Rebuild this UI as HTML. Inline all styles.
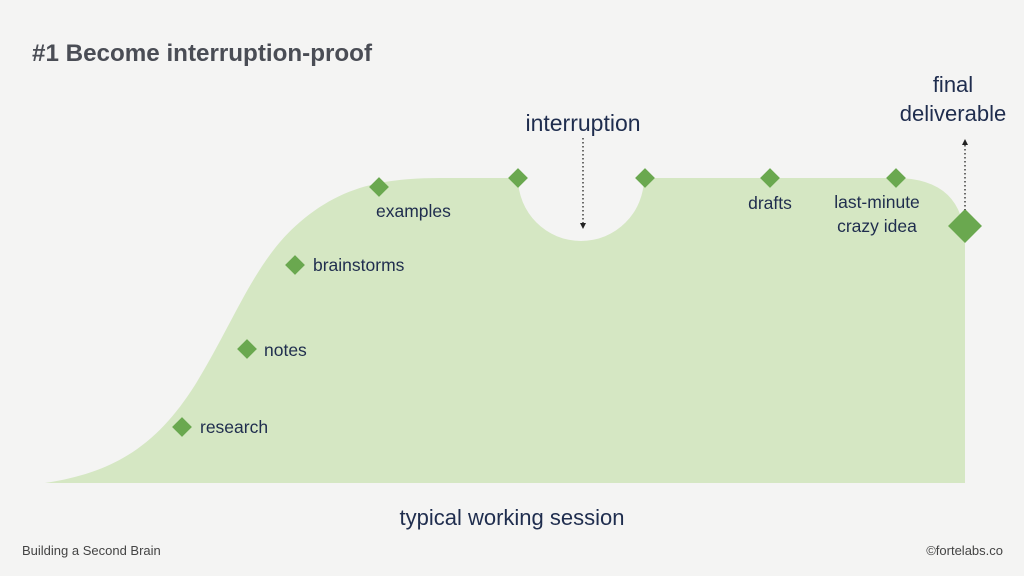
<!DOCTYPE html>
<html><head><meta charset="utf-8"><style>
body{margin:0;background:#f4f4f3;}
svg{display:block}
text{font-family:"Liberation Sans",sans-serif;}
</style></head><body>
<svg width="1024" height="576" viewBox="0 0 1024 576">
<rect width="1024" height="576" fill="#f4f4f3"/>
<text x="32" y="61" font-size="24.2" font-weight="bold" fill="#4a4d55">#1 Become interruption-proof</text>
<path d="M45,483 C120,472 160,440 195,385 C235,320 255,260 300,222 C340,188 380,178 440,178 L518,178 A63,63 0 0 0 644,178 L895,178 Q965,178 965,245 L965,483 Z" fill="#d5e7c3"/>
<g fill="#6aa84f">
<rect x="-7" y="-7" width="14" height="14" transform="translate(182,427) rotate(45)"/>
<rect x="-7" y="-7" width="14" height="14" transform="translate(247,349) rotate(45)"/>
<rect x="-7" y="-7" width="14" height="14" transform="translate(295,265) rotate(45)"/>
<rect x="-7" y="-7" width="14" height="14" transform="translate(379,187) rotate(45)"/>
<rect x="-7" y="-7" width="14" height="14" transform="translate(518,178) rotate(45)"/>
<rect x="-7" y="-7" width="14" height="14" transform="translate(645,178) rotate(45)"/>
<rect x="-7" y="-7" width="14" height="14" transform="translate(770,178) rotate(45)"/>
<rect x="-7" y="-7" width="14" height="14" transform="translate(896,178) rotate(45)"/>
<rect x="-12" y="-12" width="24" height="24" transform="translate(965,226) rotate(45)"/>
</g>
<g fill="#1f2d4e" font-size="17.5">
<text x="200" y="433">research</text>
<text x="264" y="356">notes</text>
<text x="313" y="271">brainstorms</text>
<text x="376" y="217">examples</text>
<text x="770" y="209" text-anchor="middle">drafts</text>
<text x="877" y="208" text-anchor="middle">last-minute</text>
<text x="877" y="232" text-anchor="middle">crazy idea</text>
</g>
<g fill="#1f2d4e">
<text x="583" y="131" text-anchor="middle" font-size="23">interruption</text>
<text x="953" y="92" text-anchor="middle" font-size="22">final</text>
<text x="953" y="121" text-anchor="middle" font-size="22">deliverable</text>
<text x="512" y="525" text-anchor="middle" font-size="22">typical working session</text>
</g>
<g stroke="#222" stroke-width="1.3" stroke-dasharray="1.5,2.5">
<line x1="583" y1="138" x2="583" y2="223"/>
<line x1="965" y1="145" x2="965" y2="210"/>
</g>
<path d="M580,223 L586,223 L583,229 Z" fill="#222"/>
<path d="M962,145 L968,145 L965,139 Z" fill="#222"/>
<text x="22" y="555" font-size="13" fill="#444">Building a Second Brain</text>
<text x="1003" y="555" font-size="13" fill="#444" text-anchor="end">©fortelabs.co</text>
</svg>
</body></html>
